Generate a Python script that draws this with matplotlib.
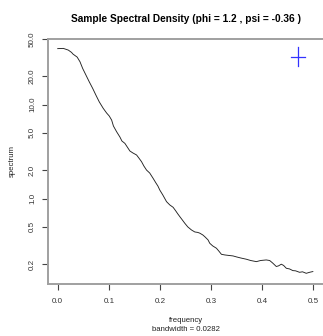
import matplotlib
matplotlib.use("Agg")
import matplotlib.pyplot as plt

plt.rcParams['font.family'] = ['Liberation Sans', 'DejaVu Sans']

# spectrum (frequency, smoothed periodogram)
freq = [0.0, 0.011, 0.0207, 0.027, 0.030, 0.038, 0.0436, 0.0488, 0.0553, 0.0617,
        0.0684, 0.0748, 0.0813, 0.089, 0.0957, 0.1008, 0.1055, 0.109, 0.1152, 0.1217,
        0.1256, 0.1314, 0.1412, 0.147, 0.1543, 0.1588, 0.164, 0.1686, 0.1738, 0.180,
        0.1867, 0.192, 0.196, 0.1998, 0.2057, 0.2129, 0.2193, 0.2258, 0.231, 0.235,
        0.2389, 0.2438, 0.2486, 0.2545, 0.2617, 0.2682, 0.274, 0.278, 0.2838, 0.2877,
        0.2941, 0.2975, 0.3033, 0.3105, 0.315, 0.3203, 0.3268, 0.3346, 0.343, 0.350,
        0.358, 0.369, 0.3775, 0.3887, 0.397, 0.408, 0.4147, 0.4205, 0.4277, 0.432,
        0.4375, 0.442, 0.4473, 0.4537, 0.460, 0.4654, 0.4732, 0.479, 0.4863, 0.4928,
        0.4992]
spec = [39.5, 39.7, 38.1, 36.0, 34.5, 32.1, 28.6, 24.3, 20.6, 17.5,
        14.9, 12.6, 10.7, 9.14, 8.14, 7.57, 6.85, 5.92, 5.15, 4.52,
        4.10, 3.87, 3.21, 3.06, 2.91, 2.70, 2.47, 2.22, 2.01, 1.87,
        1.64, 1.47, 1.36, 1.23, 1.09, 0.927, 0.855, 0.807, 0.738, 0.686,
        0.642, 0.592, 0.546, 0.499, 0.463, 0.441, 0.436, 0.428, 0.410, 0.393,
        0.363, 0.334, 0.313, 0.296, 0.277, 0.255, 0.251, 0.248, 0.245, 0.239,
        0.233, 0.226, 0.219, 0.213, 0.219, 0.222, 0.219, 0.206, 0.189, 0.192,
        0.200, 0.194, 0.181, 0.178, 0.171, 0.170, 0.164, 0.166, 0.160, 0.164,
        0.167]

# confidence interval / bandwidth cross
ci_x = 0.47
ci_mid = 32.0
ci_low = 25.8
ci_high = 41.1
bandwidth = 0.0282

xticks = [0.0, 0.1, 0.2, 0.3, 0.4, 0.5]
xticklabels = ['0.0', '0.1', '0.2', '0.3', '0.4', '0.5']
yticks = [0.2, 0.5, 1.0, 2.0, 5.0, 10.0, 20.0, 50.0]
yticklabels = ['0.2', '0.5', '1.0', '2.0', '5.0', '10.0', '20.0', '50.0']

W, H = 323, 336
fig = plt.figure(figsize=(W / 100, H / 100), dpi=100)
fig.patch.set_facecolor('white')
# right edge of the box falls just outside the picture, as in the original
ax = fig.add_axes([47.5 / W, 1 - 283.7 / H, 277.0 / W, (283.7 - 39) / H])

ax.plot(freq, spec, color='#222222', linewidth=0.65)
ax.plot([ci_x, ci_x], [ci_low, ci_high], color='#3333ff', linewidth=0.9)
ax.plot([ci_x - bandwidth / 2, ci_x + bandwidth / 2], [ci_mid, ci_mid],
        color='#3333ff', linewidth=0.9)

ax.set_yscale('log')
ax.set_xlim(-0.02, 0.522)
ax.set_ylim(0.124, 50)
ax.set_xticks(xticks)
ax.set_xticklabels(xticklabels)
ax.set_yticks(yticks)
ax.set_yticklabels(yticklabels, rotation=90, va='center')
ax.minorticks_off()

for s in ax.spines.values():
    s.set_color('#a0a0a0')
    s.set_linewidth(1.4)
ax.tick_params(length=4.3, width=0.8, color='#444444', labelsize=5.8,
               labelcolor='#333333')
ax.tick_params(axis='x', pad=6)
ax.tick_params(axis='y', pad=4)

fig.text(186 / W, 1 - 19 / H, 'Sample Spectral Density (phi = 1.2 , psi = -0.36 )',
         ha='center', va='center', fontsize=7.3, fontweight='bold')
fig.text(186 / W, 1 - 320 / H, 'frequency', ha='center', va='center',
         fontsize=5.6, color='#222222')
fig.text(186 / W, 1 - 329.5 / H, 'bandwidth = 0.0282', ha='center', va='center',
         fontsize=5.6, color='#222222')
fig.text(12 / W, 1 - 161 / H, 'spectrum', ha='center', va='center', rotation=90,
         fontsize=5.6, color='#222222')

plt.savefig('out.png', dpi=100, facecolor='white')
